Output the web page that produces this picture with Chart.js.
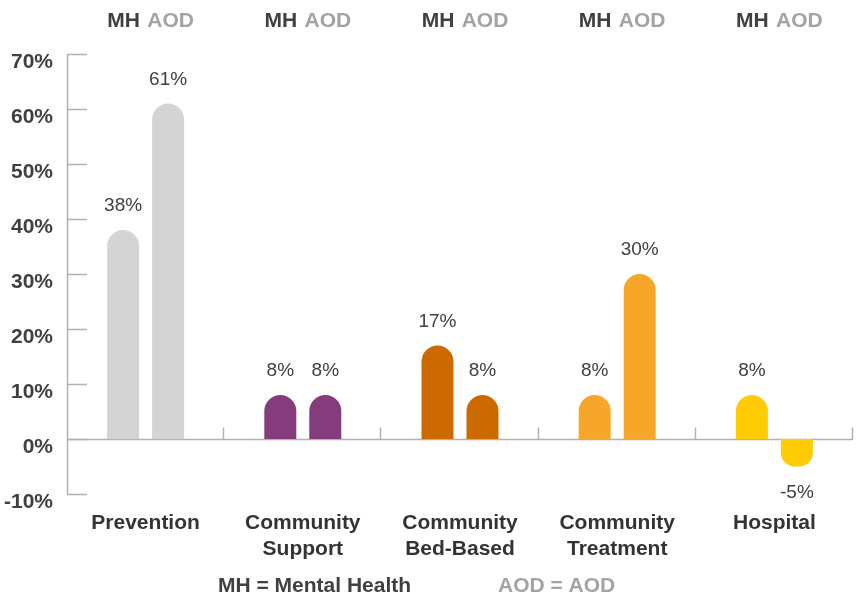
<!DOCTYPE html>
<html>
<head>
<meta charset="utf-8">
<script src="https://cdn.jsdelivr.net/npm/chart.js@4/dist/chart.umd.min.js"></script>
<style>
    body { margin: 0; background: #fff; }
    #wrap { width: 856px; height: 600px; }
</style>
</head>
<body>
<div id="wrap"><canvas id="growthChart"></canvas></div>
<script>
// data
const categories = [
    ["Prevention"],
    ["Community", "Support"],
    ["Community", "Bed-Based"],
    ["Community", "Treatment"],
    ["Hospital"]
];
const mhValues = [38, 8, 17, 8, 8];
const aodValues = [61, 8, 8, 30, -5];
const categoryColors = ["#d4d4d4", "#843c7c", "#cc6a00", "#f6a72a", "#ffcb05"];
const yTicks = [-10, 0, 10, 20, 30, 40, 50, 60, 70];

const axisColor = "#b5afaf";
const darkText = "#404040";
const greyText = "#a3a3a3";
const fontFamily = "'Liberation Sans', Arial, sans-serif";

// axis lines, small ticks, labels
const decorPlugin = {
    id: "decor",
    beforeDatasetsDraw(chart) {
        const ctx = chart.ctx;
        const y = chart.scales.y;
        const area = chart.chartArea;
        const zeroY = Math.round(y.getPixelForValue(0)) + 0.5;

        ctx.save();
        ctx.strokeStyle = axisColor;
        ctx.lineWidth = 1.5;

        // y axis line
        ctx.beginPath();
        ctx.moveTo(area.left + 0.5, area.top);
        ctx.lineTo(area.left + 0.5, area.bottom);
        ctx.stroke();

        // y ticks pointing right
        yTicks.forEach(v => {
            const py = Math.round(y.getPixelForValue(v)) + 0.5;
            ctx.beginPath();
            ctx.moveTo(area.left, py);
            ctx.lineTo(area.left + 20, py);
            ctx.stroke();
        });

        // baseline at 0
        ctx.beginPath();
        ctx.moveTo(area.left, zeroY);
        ctx.lineTo(area.right, zeroY);
        ctx.stroke();

        // category separators
        const step = (area.right - area.left) / categories.length;
        for (let i = 1; i <= categories.length; i++) {
            const px = Math.round(area.left + step * i) - 0.5;
            ctx.beginPath();
            ctx.moveTo(px, zeroY);
            ctx.lineTo(px, zeroY - 12);
            ctx.stroke();
        }
        ctx.restore();
    },
    afterDatasetsDraw(chart) {
        const ctx = chart.ctx;
        ctx.save();
        ctx.textAlign = "center";
        ctx.textBaseline = "middle";

        chart.data.datasets.forEach((ds, di) => {
            const meta = chart.getDatasetMeta(di);
            meta.data.forEach((bar, i) => {
                const v = ds.data[i];

                // value label
                ctx.font = "19px " + fontFamily;
                ctx.fillStyle = darkText;
                const ly = v >= 0 ? bar.y - 24 : bar.y + 26;
                ctx.fillText(v + "%", bar.x, ly);

                // MH / AOD header
                ctx.font = "bold 21px " + fontFamily;
                ctx.fillStyle = di === 0 ? darkText : greyText;
                ctx.fillText(ds.label, bar.x + (di === 0 ? 0.5 : 2.5), 21);
            });
        });

        // bottom key
        ctx.textAlign = "left";
        ctx.font = "bold 21px " + fontFamily;
        ctx.fillStyle = darkText;
        ctx.fillText("MH = Mental Health", 218, 586);
        ctx.fillStyle = greyText;
        ctx.fillText("AOD = AOD", 498, 586);
        ctx.restore();
    }
};

window.onload = function () {
    const ctx = document.getElementById("growthChart").getContext("2d");

    new Chart(ctx, {
        type: "bar",
        data: {
            labels: categories,
            datasets: [
                {
                    label: "MH",
                    data: mhValues,
                    backgroundColor: categoryColors,
                    borderRadius: 16,
                    borderSkipped: "start"
                },
                {
                    label: "AOD",
                    data: aodValues,
                    backgroundColor: categoryColors,
                    borderRadius: 16,
                    borderSkipped: "start"
                }
            ]
        },
        options: {
            responsive: true,
            maintainAspectRatio: false,
            animation: false,
            layout: { padding: { top: 54, right: 3, bottom: 0, left: 0 } },
            datasets: {
                bar: {
                    categoryPercentage: 0.5725,
                    barPercentage: 0.711
                }
            },
            plugins: {
                legend: { display: false },
                tooltip: { enabled: false }
            },
            scales: {
                x: {
                    grid: { display: false },
                    border: { display: false },
                    ticks: {
                        color: "#333333",
                        padding: 8,
                        maxRotation: 0,
                        font: { family: fontFamily, size: 21, weight: "bold", lineHeight: 1.24 }
                    },
                    afterFit(scale) { scale.height = 106; }
                },
                y: {
                    min: -10,
                    max: 70,
                    grid: { display: false, drawTicks: false },
                    border: { display: false },
                    ticks: {
                        stepSize: 10,
                        padding: 14,
                        labelOffset: 8,
                        color: darkText,
                        font: { family: fontFamily, size: 21, weight: "bold" },
                        callback: v => v + "%"
                    },
                    afterFit(scale) { scale.width = 67; }
                }
            }
        },
        plugins: [decorPlugin]
    });
};
</script>
</body>
</html>
